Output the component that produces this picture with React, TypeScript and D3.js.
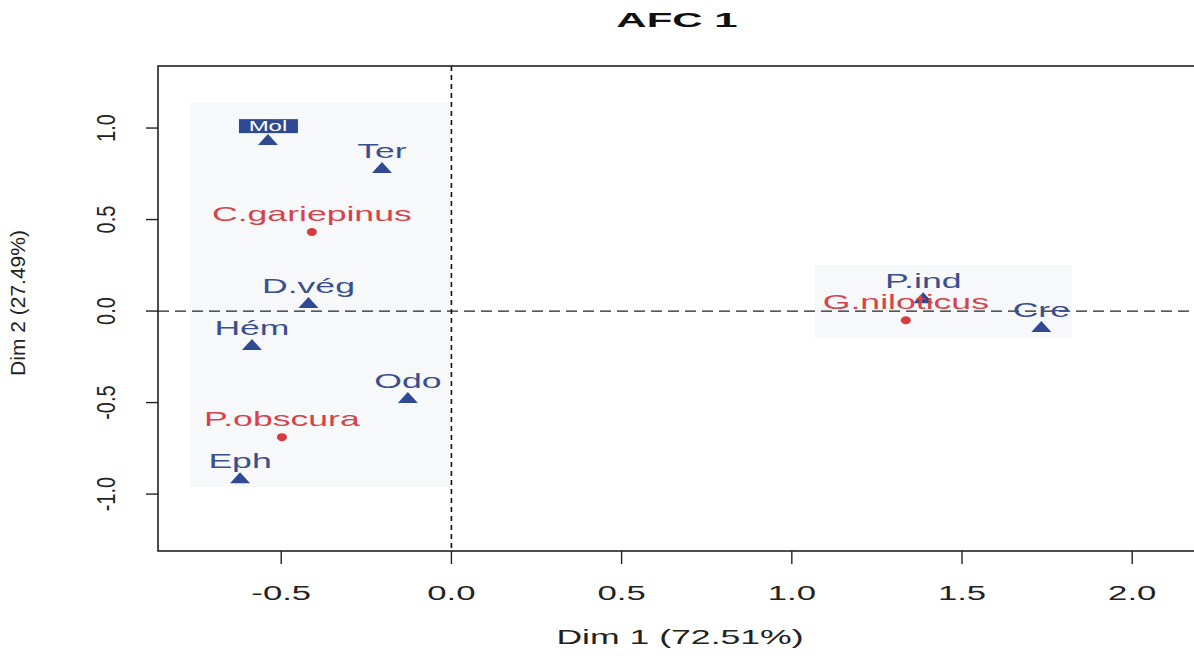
import React from "react";
import * as d3 from "d3";

const title = "AFC 1";
const xTitle = "Dim 1 (72.51%)";
const yTitle = "Dim 2 (27.49%)";

const xTicks = [-0.5, 0.0, 0.5, 1.0, 1.5, 2.0];
const yTicks = [-1.0, -0.5, 0.0, 0.5, 1.0];

const speciesNames = ["C.gariepinus", "P.obscura", "G.niloticus"];
const speciesDim1 = [-0.41, -0.498, 1.335];
const speciesDim2 = [0.432, -0.689, -0.05];

const preyNames = ["Mol", "Ter", "D.vég", "Hém", "Odo", "Eph", "P.ind", "Cre"];
const preyDim1 = [-0.539, -0.204, -0.42, -0.586, -0.128, -0.621, 1.386, 1.733];
const preyDim2 = [0.934, 0.781, 0.044, -0.186, -0.475, -0.913, 0.07, -0.087];

const BLUE = "#2f4a92";
const BLUE_TXT = "#3b4f8f";
const RED = "#d83a40";
const RED_TXT = "#d6434a";
const FONT = "'Liberation Sans', Arial, sans-serif";
const SX = 1.78;

const W = 1194;
const H = 656;
const L = 158, R = 1202, T = 66, B = 551;

const x = d3.scaleLinear().domain([-0.862, 2.205]).range([L, R]);
const y = d3.scaleLinear().domain([-1.311, 1.339]).range([B, T]);

function SText({ x0, y0, text, size, fill, sx = SX, weight = "normal" }: any) {
  return (
    <text
      transform={`translate(${x0},${y0}) scale(${sx},1)`}
      textAnchor="middle"
      fontFamily={FONT}
      fontSize={size}
      fontWeight={weight}
      fill={fill}
    >
      {text}
    </text>
  );
}

export default function App() {
  const tri = "M-10,5 L10,5 L0,-6 Z";
  return (
    <svg width={W} height={H} style={{ position: "absolute", left: 0, top: 0, background: "#fff" }}>
      <rect x={0} y={0} width={W} height={H} fill="#fff" />
      {/* shaded label regions */}
      <rect x={190} y={103} width={260} height={384} fill="#f7f8fa" />
      <rect x={815} y={265} width={257} height={73} fill="#f7f8fa" />

      {/* zero lines */}
      <line x1={L} x2={R} y1={y(0)} y2={y(0)} stroke="#222" strokeWidth={1.3} strokeDasharray="11 6" />
      <line x1={x(0)} x2={x(0)} y1={T} y2={B} stroke="#111" strokeWidth={1.6} strokeDasharray="5 4" />

      {/* box */}
      <rect x={L} y={T} width={R - L} height={B - T} fill="none" stroke="#222" strokeWidth={1.6} />

      {/* x axis */}
      {xTicks.map((t) => (
        <g key={"xt" + t}>
          <line x1={x(t)} x2={x(t)} y1={B} y2={B + 13} stroke="#222" strokeWidth={1.4} />
          <SText x0={x(t)} y0={600} text={t.toFixed(1)} size={19.5} fill="#222" />
        </g>
      ))}
      {/* y axis */}
      {yTicks.map((t) => (
        <g key={"yt" + t}>
          <line x1={L - 12} x2={L} y1={y(t)} y2={y(t)} stroke="#222" strokeWidth={1.4} />
          <text
            transform={`translate(115,${y(t)}) scale(1.25,1) rotate(-90)`}
            textAnchor="middle"
            fontFamily={FONT}
            fontSize={20}
            fill="#222"
          >
            {t.toFixed(1)}
          </text>
        </g>
      ))}

      {/* titles */}
      <SText x0={677} y0={27} text={title} size={21} fill="#111" weight="bold" sx={2.0} />
      <SText x0={680} y0={644} text={xTitle} size={20} fill="#222" />
      <text
        transform={`translate(25,303) rotate(-90)`}
        textAnchor="middle"
        fontFamily={FONT}
        fontSize={21}
        fill="#222"
      >
        {yTitle}
      </text>

      {/* prey (blue triangles) */}
      {preyNames.map((n, i) => {
        const px = x(preyDim1[i]);
        const py = y(preyDim2[i]);
        return (
          <g key={"p" + n}>
            <path d={tri} transform={`translate(${px},${py})`} fill={BLUE} />
            {n === "Mol" ? (
              <g>
                <rect x={px - 29} y={py - 21} width={59} height={14} fill={BLUE} />
                <SText x0={px} y0={py - 9} text={n} size={15} fill="#fff" sx={1.6} />
              </g>
            ) : (
              <SText x0={px} y0={py - 10} text={n} size={20} fill={BLUE_TXT} />
            )}
          </g>
        );
      })}

      {/* species (red dots) */}
      {speciesNames.map((n, i) => {
        const px = x(speciesDim1[i]);
        const py = y(speciesDim2[i]);
        return (
          <g key={"s" + n}>
            <ellipse cx={px} cy={py} rx={5} ry={4} fill={RED} />
            <SText x0={px} y0={py - 11} text={n} size={20} fill={RED_TXT} />
          </g>
        );
      })}
    </svg>
  );
}
